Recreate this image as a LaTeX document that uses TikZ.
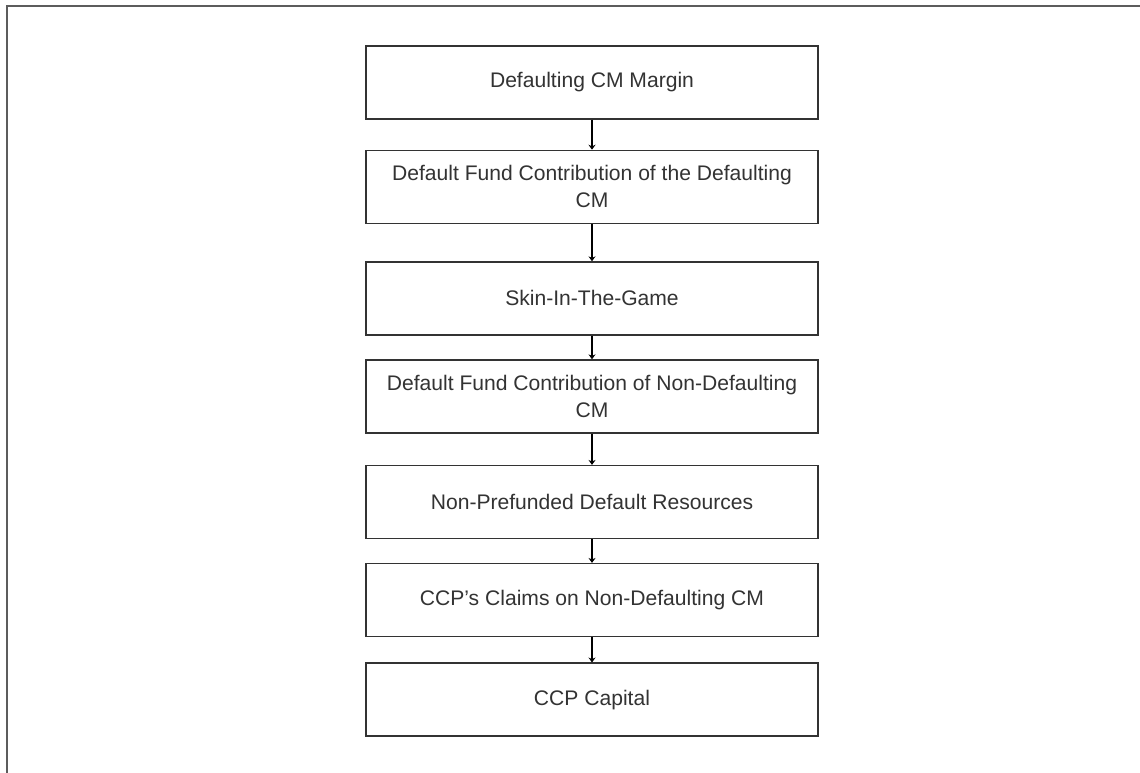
\documentclass[tikz,border=0pt]{standalone}
\usepackage{fontspec}
\setmainfont{Liberation Sans}
\usetikzlibrary{positioning,arrows.meta}
\definecolor{inkgray}{HTML}{333333}
\begin{document}
\begin{tikzpicture}[auto, node distance=2.6cm]
    \tikzstyle{block} = [draw=inkgray, line width=0.9pt, fill=white, rectangle,
    minimum height=1.825cm, minimum width=11.3cm, text width=10.8cm,
    align=flush center, text=inkgray, font=\fontsize{15}{19}\selectfont]
    \tikzstyle{frame} = [draw=inkgray!80, line width=1.1pt]
    \tikzstyle{flow} = [-{Stealth[length=3.5pt,width=5pt]}, line width=0.75pt, draw=black]
    \useasboundingbox (0,0) rectangle (28.5,-19.325);
    \coordinate (fbl) at (0.17,-19.325);
    \coordinate (ftr) at (28.5,-0.15);
    \draw [frame] (fbl) |- (ftr);
    \node [block] at (14.8,-2.06) (margin) {Defaulting CM Margin};
    \node [block, below of=margin, node distance=2.61cm] (dfdef) {Default Fund Contribution of the Defaulting CM};
    \node [block, below of=dfdef, node distance=2.79cm] (skin) {Skin-In-The-Game};
    \node [block, below of=skin, node distance=2.45cm] (dfnon) {Default Fund Contribution of Non-Defaulting CM};
    \node [block, below of=dfnon, node distance=2.64cm] (nonpre) {Non-Prefunded Default Resources};
    \node [block, below of=nonpre, node distance=2.45cm] (claims) {CCP's Claims on Non-Defaulting CM};
    \node [block, below of=claims, node distance=2.49cm] (capital) {CCP Capital};
    \draw [flow] (margin) -- (dfdef);
    \draw [flow] (dfdef) -- (skin);
    \draw [flow] (skin) -- (dfnon);
    \draw [flow] (dfnon) -- (nonpre);
    \draw [flow] (nonpre) -- (claims);
    \draw [flow] (claims) -- (capital);
\end{tikzpicture}
\end{document}
